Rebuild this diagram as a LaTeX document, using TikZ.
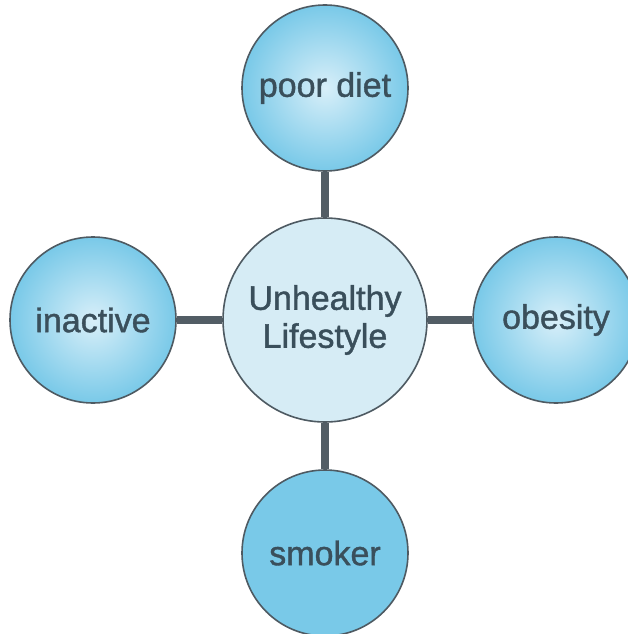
\documentclass[tikz,border=0pt]{standalone}
\usepackage{fontspec}
\setmainfont{Liberation Sans}
\newfontfamily\bubblefont{Liberation Sans}[FakeBold=1.2]
\usetikzlibrary{positioning}

\definecolor{bubble}{HTML}{79C9E8}
\definecolor{bubblelight}{HTML}{D8EFF9}
\definecolor{hubfill}{HTML}{D6ECF5}
\definecolor{ringgray}{HTML}{4E5A62}
\definecolor{linkgray}{HTML}{525D65}
\definecolor{textgray}{HTML}{3A4F5B}

\tikzset{
  bubbly/.style={circle, draw=ringgray, line width=1.6pt, inner sep=0pt,
    minimum size=166pt, text=textgray,
    font=\bubblefont\fontsize{34}{38}\selectfont},
  shaded/.style={bubbly, inner color=bubblelight, outer color=bubble},
  flat/.style={bubbly, fill=bubble},
  hubbly/.style={bubbly, minimum size=204pt, fill=hubfill, align=center},
  link/.style={draw=linkgray, line width=8pt}
}

\begin{document}
\begin{tikzpicture}[x=1pt, y=-1pt]
  % Page frame
  \useasboundingbox (0,0) rectangle (628,634);

  % Centre topic
  \node[hubbly] (hub) at (325,320) {Unhealthy\\Lifestyle};

  % Factors round it
  \node[shaded] (diet) at (325,88) {poor diet};
  \node[shaded] (inactive) at (93,320) {inactive};
  \node[shaded] (obesity) at (556,320) {obesity};
  \node[flat] (smoker) at (325,553) {smoker};

  % Spokes
  \foreach \f in {diet, inactive, obesity, smoker} {
    \draw[link] (hub) -- (\f);
  }
\end{tikzpicture}
\end{document}
